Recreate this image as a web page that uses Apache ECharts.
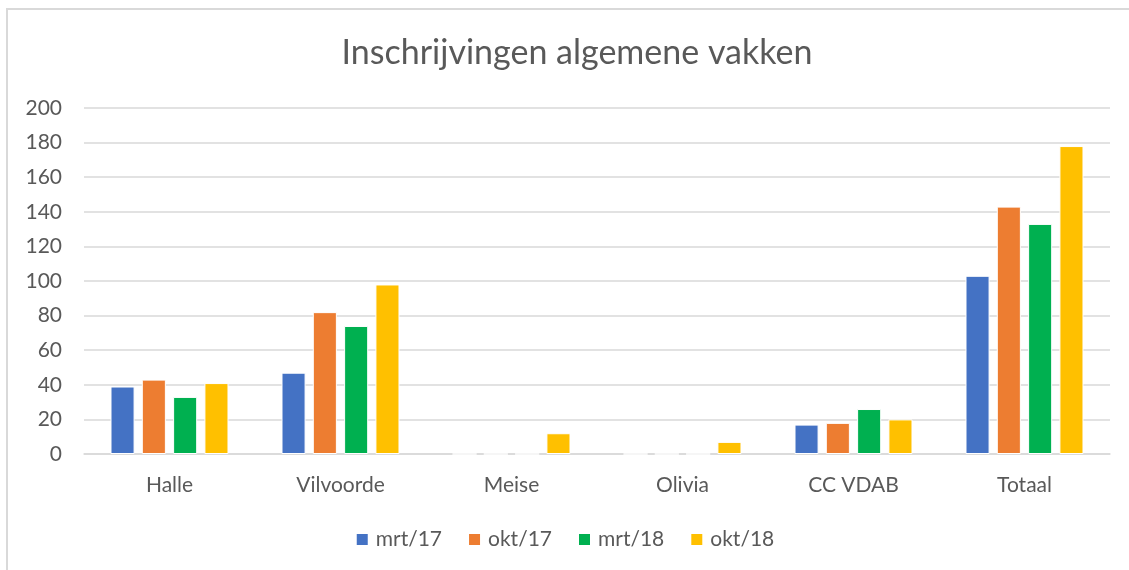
<!DOCTYPE html>
<html>
<head>
<meta charset="utf-8">
<script src="https://cdn.jsdelivr.net/npm/echarts@6/dist/echarts.min.js"></script>
<style>
	html, body { margin: 0; padding: 0; background: #fff; overflow: hidden; }
	#frame { position: absolute; left: 6px; top: 8px; width: 1140px; height: 600px; border: 2px solid #d9d9d9; box-sizing: border-box; }
	#chart { position: absolute; left: 0; top: 0; width: 1129px; height: 570px; }
</style>
</head>
<body>
<div id="frame"></div>
<div id="chart"></div>
<script>
// categories and series
const categories = ['Halle', 'Vilvoorde', 'Meise', 'Olivia', 'CC VDAB', 'Totaal'];
const mrt17 = [39, 47, 0, 0, 17, 103];
const okt17 = [43, 82, 0, 0, 18, 143];
const mrt18 = [33, 74, 0, 0, 26, 133];
const okt18 = [41, 98, 12, 7, 20, 178];
const seriesNames = ['mrt/17', 'okt/17', 'mrt/18', 'okt/18'];
const seriesColors = ['#4472c4', '#ed7d31', '#00b050', '#ffc000'];

const font = 'Lato, "Open Sans", sans-serif';
const textColor = '#595959';

const chart = echarts.init(document.getElementById('chart'), null, { renderer: 'canvas' });

const makeSeries = (name, data, i) => ({
	name: name,
	type: 'bar',
	data: data,
	barGap: '30%',
	barCategoryGap: '31%',
	itemStyle: { color: seriesColors[i], borderColor: '#ffffff', borderWidth: 1 },
});

chart.setOption({
	animation: false,
	backgroundColor: 'transparent',
	title: {
		text: 'Inschrijvingen algemene vakken',
		left: 572,
		top: 31,
		textAlign: 'center',
		textStyle: { fontFamily: font, fontSize: 34, fontWeight: 'normal', color: textColor },
	},
	legend: {
		data: seriesNames,
		top: 524,
		left: 'center',
		icon: 'rect',
		itemWidth: 13,
		itemHeight: 13,
		itemGap: 25,
		textStyle: { fontFamily: font, fontSize: 21, color: textColor, padding: [0, 0, 0, 2] },
	},
	grid: { left: 84, right: 19, top: 108, bottom: 116, containLabel: false },
	xAxis: {
		type: 'category',
		data: categories,
		axisLine: { lineStyle: { color: '#d9d9d9', width: 1.5 } },
		axisTick: { show: false },
		axisLabel: { fontFamily: font, fontSize: 21, color: textColor, margin: 21 },
	},
	yAxis: {
		type: 'value',
		min: 0,
		max: 200,
		interval: 20,
		axisLine: { show: false },
		axisTick: { show: false },
		splitLine: { lineStyle: { color: '#d9d9d9', width: 1.5 } },
		axisLabel: { fontFamily: font, fontSize: 21, color: textColor, margin: 22 },
	},
	series: [
		makeSeries(seriesNames[0], mrt17, 0),
		makeSeries(seriesNames[1], okt17, 1),
		makeSeries(seriesNames[2], mrt18, 2),
		makeSeries(seriesNames[3], okt18, 3),
	],
});
</script>
</body>
</html>
